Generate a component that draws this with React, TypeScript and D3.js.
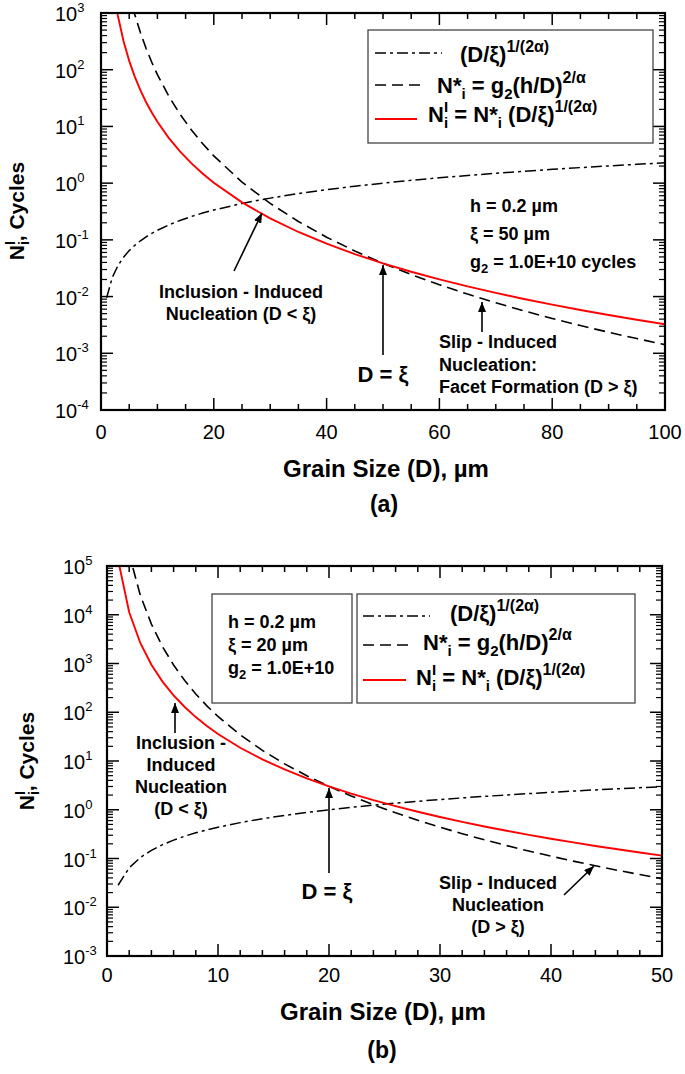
import React from "react";
import * as d3 from "d3";

// ---------- data ----------
// Panel (a): xi = 50 um
const grainA = [1, 2, 3, 4, 5, 6, 7, 8, 9, 10, 12, 14, 16, 18, 20, 25, 30, 35, 40, 45, 50, 55, 60, 65, 70, 75, 80, 85, 90, 95, 100];
const ratioA = [0.00951, 0.0217, 0.03515, 0.0495, 0.06456, 0.0802, 0.09636, 0.113, 0.1299, 0.1473, 0.183, 0.2198, 0.2577, 0.2965, 0.336, 0.4383, 0.5445, 0.654, 0.7668, 0.882, 1.0, 1.12, 1.242, 1.366, 1.492, 1.62, 1.749, 1.88, 2.013, 2.146, 2.281];
const nStarA = [4.71e6, 1.738e5, 2.522e4, 6413, 2217, 930.9, 446.9, 236.7, 135.1, 81.85, 34.36, 16.5, 8.737, 4.986, 3.02, 1.044, 0.4384, 0.2104, 0.1115, 0.06362, 0.03853, 0.02447, 0.01618, 0.01105, 0.007768, 0.005592, 0.004113, 0.003083, 0.002348, 0.001816, 0.001422];
const nInitA = [4.48e4, 3771, 886.7, 317.4, 143.2, 74.66, 43.07, 26.74, 17.56, 12.05, 6.287, 3.626, 2.251, 1.478, 1.015, 0.4575, 0.2387, 0.1376, 0.08547, 0.05612, 0.03853, 0.02742, 0.02009, 0.0151, 0.01159, 0.00906, 0.007196, 0.005796, 0.004726, 0.003896, 0.003244];

// Panel (b): xi = 20 um
const grainB = [1, 2, 3, 4, 5, 6, 7, 8, 9, 10, 12, 14, 16, 18, 20, 22, 24, 26, 28, 30, 32, 34, 36, 38, 40, 42, 44, 46, 48, 50];
const ratioB = [0.0283, 0.06457, 0.1046, 0.1473, 0.1921, 0.2387, 0.2867, 0.3361, 0.3868, 0.4384, 0.5445, 0.6541, 0.7669, 0.8822, 1.0, 1.12, 1.242, 1.366, 1.492, 1.62, 1.749, 1.88, 2.013, 2.146, 2.281, 2.418, 2.556, 2.695, 2.835, 2.976];
const nStarB = [4.71e6, 1.738e5, 2.522e4, 6413, 2217, 930.9, 446.9, 236.7, 135.1, 81.85, 34.36, 16.5, 8.737, 4.986, 3.02, 1.919, 1.268, 0.8661, 0.6087, 0.4384, 0.3225, 0.2416, 0.184, 0.1422, 0.1115, 0.08834, 0.0708, 0.0573, 0.0468, 0.03853];
const nInitB = [1.333e5, 1.122e4, 2639, 944.7, 426, 222.2, 128.2, 79.56, 52.25, 35.86, 18.71, 10.79, 6.699, 4.399, 3.02, 2.149, 1.575, 1.184, 0.9085, 0.7101, 0.5639, 0.4542, 0.3704, 0.3054, 0.2543, 0.2137, 0.181, 0.1544, 0.1327, 0.1147];

// tick definitions
const xMajorA = [0, 20, 40, 60, 80, 100];
const xMinorA = d3.range(0, 101, 5);
const yExpA = [-4, -3, -2, -1, 0, 1, 2, 3];
const xMajorB = [0, 10, 20, 30, 40, 50];
const xMinorB = d3.range(0, 51, 2);
const yExpB = [-3, -2, -1, 0, 1, 2, 3, 4, 5];

const FONT = "'Liberation Sans', Arial, Helvetica, sans-serif";
const RED = "#ff0000";
const DASHDOT = "11,4,3,4";
const DASHED = "11,6";

type Lin = d3.ScaleLinear<number, number>;
type Lg = d3.ScaleLogarithmic<number, number>;

function Axes({ x, y, xMajor, xMinor, yExps, yLabelX, xLabelBase }: { x: Lin; y: Lg; xMajor: number[]; xMinor: number[]; yExps: number[]; yLabelX: number; xLabelBase: number }) {
  const [xl, xr] = x.range();
  const [yb, yt] = y.range();
  const M = 12;
  const m = 6;
  const majors = yExps.map((e) => Math.pow(10, e));
  const minors: number[] = [];
  for (let i = 0; i < yExps.length - 1; i++) for (let k = 2; k <= 9; k++) minors.push(k * Math.pow(10, yExps[i]));
  const xm = xMinor.filter((v) => !xMajor.includes(v));
  return (
    <g stroke="#000" strokeWidth={1.5}>
      {xMajor.map((v) => (
        <g key={"xM" + v}>
          <line x1={x(v)} x2={x(v)} y1={yb} y2={yb - M} />
          <line x1={x(v)} x2={x(v)} y1={yt} y2={yt + M} />
        </g>
      ))}
      {xm.map((v) => (
        <g key={"xm" + v}>
          <line x1={x(v)} x2={x(v)} y1={yb} y2={yb - m} />
          <line x1={x(v)} x2={x(v)} y1={yt} y2={yt + m} />
        </g>
      ))}
      {majors.map((v) => (
        <g key={"yM" + v}>
          <line x1={xl} x2={xl + M} y1={y(v)} y2={y(v)} />
          <line x1={xr} x2={xr - M} y1={y(v)} y2={y(v)} />
        </g>
      ))}
      {minors.map((v) => (
        <g key={"ym" + v} strokeWidth={1.2}>
          <line x1={xl} x2={xl + m} y1={y(v)} y2={y(v)} />
          <line x1={xr} x2={xr - m} y1={y(v)} y2={y(v)} />
        </g>
      ))}
      <rect x={xl} y={yt} width={xr - xl} height={yb - yt} fill="none" strokeWidth={2.2} />
      <g stroke="none" fill="#000" fontFamily={FONT} fontSize={20}>
        {xMajor.map((v) => (
          <text key={"xl" + v} x={x(v)} y={xLabelBase} textAnchor="middle">
            {v}
          </text>
        ))}
        {yExps.map((e) => (
          <text key={"yl" + e} x={yLabelX} y={y(Math.pow(10, e)) + 8}>
            10
            <tspan dy={-9} fontSize={13}>
              {e < 0 ? "-" + Math.abs(e) : String(e)}
            </tspan>
          </text>
        ))}
      </g>
    </g>
  );
}

function Curves({ x, y, grain, ratio, nStar, nInit, clipId }: { x: Lin; y: Lg; grain: number[]; ratio: number[]; nStar: number[]; nInit: number[]; clipId: string }) {
  const [xl, xr] = x.range();
  const [yb, yt] = y.range();
  const mk = (vals: number[]) =>
    d3
      .line<number>()
      .x((i) => x(grain[i]))
      .y((i) => y(vals[i]))
      .curve(d3.curveLinear)(d3.range(grain.length)) || "";
  return (
    <g>
      <defs>
        <clipPath id={clipId}>
          <rect x={xl} y={yt} width={xr - xl} height={yb - yt} />
        </clipPath>
      </defs>
      <g clipPath={`url(#${clipId})`} fill="none">
        <path d={mk(ratio)} stroke="#000" strokeWidth={1.5} strokeDasharray={DASHDOT} />
        <path d={mk(nStar)} stroke="#000" strokeWidth={1.6} strokeDasharray={DASHED} />
        <path d={mk(nInit)} stroke={RED} strokeWidth={1.9} />
      </g>
    </g>
  );
}

function Legend({ box, rows, lineX, lineEnds, textX, bases }: { box: [number, number, number, number]; rows: number[]; lineX: number; lineEnds: number[]; textX: number[]; bases: number[] }) {
  const [bx, by, bx2, by2] = box;
  return (
    <g fontFamily={FONT} fontWeight="bold" fontSize={22} fill="#000">
      <rect x={bx} y={by} width={bx2 - bx} height={by2 - by} fill="#fff" stroke="#444" strokeWidth={1.3} />
      <line x1={lineX} x2={lineEnds[0]} y1={rows[0]} y2={rows[0]} stroke="#000" strokeWidth={1.5} strokeDasharray={DASHDOT} />
      <line x1={lineX} x2={lineEnds[1]} y1={rows[1]} y2={rows[1]} stroke="#000" strokeWidth={1.6} strokeDasharray={DASHED} />
      <line x1={lineX} x2={lineEnds[2]} y1={rows[2]} y2={rows[2]} stroke={RED} strokeWidth={1.9} />
      <text x={textX[0]} y={bases[0]}>
        (D/ξ)
        <tspan dy={-10} fontSize={16}>
          1/(2α)
        </tspan>
      </text>
      <text x={textX[1]} y={bases[1]}>
        N*
        <tspan dy={6} fontSize={15}>
          i
        </tspan>
        <tspan dy={-6}> = g</tspan>
        <tspan dy={6} fontSize={15}>
          2
        </tspan>
        <tspan dy={-6}>(h/D)</tspan>
        <tspan dy={-10} fontSize={16}>
          2/α
        </tspan>
      </text>
      <text x={textX[2]} y={bases[2]}>
        N
        <tspan dy={-10} fontSize={15}>
          I
        </tspan>
        <tspan dx={-4} dy={16} fontSize={15}>
          i
        </tspan>
        <tspan dy={-6}> = N*</tspan>
        <tspan dy={6} fontSize={15}>
          i
        </tspan>
        <tspan dy={-6}> (D/ξ)</tspan>
        <tspan dy={-10} fontSize={16}>
          1/(2α)
        </tspan>
      </text>
    </g>
  );
}

function YTitle({ tx, ty }: { tx: number; ty: number }) {
  return (
    <text transform={`translate(${tx},${ty}) rotate(-90)`} textAnchor="middle" fontFamily={FONT} fontWeight="bold" fontSize={21}>
      N
      <tspan dy={-9} fontSize={14}>
        I
      </tspan>
      <tspan dx={-4} dy={14} fontSize={14}>
        i
      </tspan>
      <tspan dy={-5}>, Cycles</tspan>
    </text>
  );
}

function Arrow({ x1, y1, x2, y2 }: { x1: number; y1: number; x2: number; y2: number }) {
  return <line x1={x1} y1={y1} x2={x2} y2={y2} stroke="#000" strokeWidth={1.6} markerEnd="url(#arrowHead)" />;
}

function Params({ x, bases, third }: { x: number; bases: number[]; third: string }) {
  return (
    <g fontFamily={FONT} fontWeight="bold" fontSize={18}>
      <text x={x} y={bases[0]}>h = 0.2 µm</text>
      <text x={x} y={bases[1]}>{bases.length && third.includes("cycles") ? "ξ = 50 µm" : "ξ = 20 µm"}</text>
      <text x={x} y={bases[2]}>
        g
        <tspan dy={5} fontSize={13}>
          2
        </tspan>
        <tspan dy={-5}>{third}</tspan>
      </text>
    </g>
  );
}

export default function App() {
  const xA = d3.scaleLinear().domain([0, 100]).range([101, 665]);
  const yA = d3.scaleLog().domain([1e-4, 1e3]).range([410, 13]);
  const xB = d3.scaleLinear().domain([0, 50]).range([107, 662]);
  const yB = d3.scaleLog().domain([1e-3, 1e5]).range([956, 566]);

  const T = { fontFamily: FONT, fontWeight: "bold" as const, fontSize: 18 };

  return (
    <svg width={685} height={1074} style={{ position: "absolute", left: 0, top: 0, background: "#fff" }}>
      <defs>
        <marker id="arrowHead" viewBox="0 0 10 8" refX={10} refY={4} markerWidth={10} markerHeight={8} markerUnits="userSpaceOnUse" orient="auto">
          <path d="M0,0 L10,4 L0,8 z" fill="#000" />
        </marker>
      </defs>
      <rect width={685} height={1074} fill="#fff" />

      {/* ---------- Panel (a) ---------- */}
      <Curves x={xA} y={yA} grain={grainA} ratio={ratioA} nStar={nStarA} nInit={nInitA} clipId="clipA" />
      <Axes x={xA} y={yA} xMajor={xMajorA} xMinor={xMinorA} yExps={yExpA} yLabelX={55} xLabelBase={439} />
      <Legend box={[368, 30, 653, 143]} rows={[53, 85, 119]} lineX={375} lineEnds={[442, 420, 417]} textX={[460, 437, 428]} bases={[62, 93, 122]} />
      <Params x={470} bases={[212, 240, 268]} third=" = 1.0E+10 cycles" />
      <g {...T}>
        <text x={241} y={298} textAnchor="middle">Inclusion - Induced</text>
        <text x={241} y={320} textAnchor="middle">Nucleation (D &lt; ξ)</text>
        <text x={439} y={348}>Slip - Induced</text>
        <text x={439} y={371}>Nucleation:</text>
        <text x={439} y={393}>Facet Formation (D &gt; ξ)</text>
        <text x={xA(50)} y={382} textAnchor="middle" fontSize={22}>D = ξ</text>
      </g>
      <Arrow x1={234} y1={271} x2={262} y2={213} />
      <Arrow x1={xA(50)} y1={355} x2={xA(50)} y2={265} />
      <Arrow x1={482} y1={332} x2={482} y2={302} />
      <YTitle tx={24} ty={211} />
      <text x={386} y={477} textAnchor="middle" fontFamily={FONT} fontWeight="bold" fontSize={24}>Grain Size (D), µm</text>
      <text x={384} y={512} textAnchor="middle" fontFamily={FONT} fontWeight="bold" fontSize={23}>(a)</text>

      {/* ---------- Panel (b) ---------- */}
      <Curves x={xB} y={yB} grain={grainB} ratio={ratioB} nStar={nStarB} nInit={nInitB} clipId="clipB" />
      <Axes x={xB} y={yB} xMajor={xMajorB} xMinor={xMinorB} yExps={yExpB} yLabelX={63} xLabelBase={982} />
      <rect x={212} y={594} width={140} height={109} fill="#fff" stroke="#444" strokeWidth={1.3} />
      <Params x={228} bases={[628, 651, 674]} third=" = 1.0E+10" />
      <Legend box={[357, 594, 635, 703]} rows={[616, 645, 680]} lineX={363} lineEnds={[430, 412, 406]} textX={[450, 423, 416]} bases={[621, 650, 685]} />
      <g {...T}>
        <text x={181} y={749} textAnchor="middle">Inclusion -</text>
        <text x={181} y={771} textAnchor="middle">Induced</text>
        <text x={181} y={793} textAnchor="middle">Nucleation</text>
        <text x={181} y={815} textAnchor="middle">(D &lt; ξ)</text>
        <text x={498} y={889} textAnchor="middle">Slip - Induced</text>
        <text x={498} y={911} textAnchor="middle">Nucleation</text>
        <text x={498} y={933} textAnchor="middle">(D &gt; ξ)</text>
        <text x={327} y={899} textAnchor="middle" fontSize={22}>D = ξ</text>
      </g>
      <Arrow x1={175} y1={733} x2={175} y2={703} />
      <Arrow x1={xB(20)} y1={873} x2={xB(20)} y2={788} />
      <Arrow x1={564} y1={895} x2={594} y2={866} />
      <YTitle tx={34} ty={761} />
      <text x={383} y={1020} textAnchor="middle" fontFamily={FONT} fontWeight="bold" fontSize={24}>Grain Size (D), µm</text>
      <text x={382} y={1058} textAnchor="middle" fontFamily={FONT} fontWeight="bold" fontSize={23}>(b)</text>
    </svg>
  );
}
